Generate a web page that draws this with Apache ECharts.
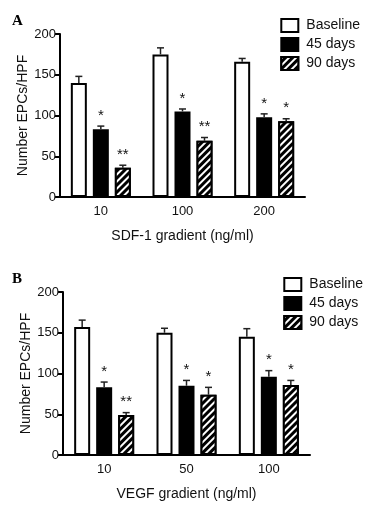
<!DOCTYPE html>
<html>
<head>
<meta charset="utf-8">
<script src="https://cdn.jsdelivr.net/npm/echarts@6/dist/echarts.min.js"></script>
<style>
  html, body { margin: 0; padding: 0; background: #fff; }
  #chart { width: 380px; height: 514px; }
</style>
</head>
<body>
<div id="chart"></div>
<script>
// panel A: SDF-1
const catsA = ['10', '100', '200']
const baseA = [140, 175, 166]
const baseErrA = [8, 8, 4]
const d45A = [83, 105, 98]
const d45ErrA = [4, 3, 4]
const d90A = [36, 69, 93]
const d90ErrA = [3, 4, 3]
const sig45A = ['*', '*', '*']
const sig90A = ['**', '**', '*']

// panel B: VEGF
const catsB = ['10', '50', '100']
const baseB = [157, 150, 145]
const baseErrB = [8.5, 5.5, 10]
const d45B = [83, 85, 96]
const d45ErrB = [6.5, 6.5, 7.5]
const d90B = [49, 74, 86]
const d90ErrB = [3, 9, 5.5]
const sig45B = ['*', '*', '*']
const sig90B = ['**', '*', '*']

const yTicks = [0, 50, 100, 150, 200]
const seriesNames = ['Baseline', '45 days', '90 days']

const font = 'Liberation Sans, Arial, Helvetica, sans-serif'
const barW = 16
const barGapPx = 6

const chart = echarts.init(document.getElementById('chart'))

const hatch = {
  color: '#fff',
  backgroundColor: '#000',
  symbol: 'rect',
  symbolSize: 1,
  dashArrayX: [1, 0],
  dashArrayY: [2, 2.5],
  rotation: -Math.PI / 4
}

const styles = [
  { color: '#fff', borderColor: '#000', borderWidth: 2 },
  { color: '#000', borderColor: '#000', borderWidth: 2 },
  { color: '#000', borderColor: '#000', borderWidth: 2, decal: hatch }
]

function yAxisFor(gridIndex) {
  return {
    type: 'value',
    gridIndex,
    min: 0,
    max: 200,
    interval: 50,
    name: 'Number EPCs/HPF',
    nameLocation: 'middle',
    nameGap: 30,
    nameMoveOverlap: false,
    nameTextStyle: { fontFamily: font, fontSize: 14, color: '#111' },
    axisLine: { show: true, lineStyle: { color: '#000', width: 2 } },
    axisTick: { show: true, length: 5, lineStyle: { color: '#000', width: 2 } },
    axisLabel: { fontFamily: font, fontSize: 13, color: '#111', margin: 4,
      formatter: v => yTicks.includes(v) ? String(v) : '' },
    splitLine: { show: false }
  }
}

function xAxisFor(gridIndex, cats, title) {
  return {
    type: 'category',
    gridIndex,
    data: cats,
    name: title,
    nameLocation: 'middle',
    nameGap: 32,
    nameTextStyle: { fontFamily: font, fontSize: 14, color: '#111' },
    axisLine: { lineStyle: { color: '#000', width: 2 } },
    axisTick: { alignWithLabel: true, length: 5, lineStyle: { color: '#000', width: 2 } },
    axisLabel: { fontFamily: font, fontSize: 13, color: '#111', margin: 8 }
  }
}

// error bar + significance stars, drawn on top of the bars
function errSeries(axisIdx, k, vals, errs, sig) {
  return {
    type: 'custom',
    xAxisIndex: axisIdx,
    yAxisIndex: axisIdx,
    z: 5,
    silent: true,
    data: vals.map((v, i) => [i, v, v + errs[i]]),
    renderItem(params, api) {
      const off = (k - 1) * (barW + barGapPx)
      const p0 = api.coord([api.value(0), api.value(1)])
      const p1 = api.coord([api.value(0), api.value(2)])
      const x = p0[0] + off
      const children = [
        { type: 'line', shape: { x1: x, y1: p0[1], x2: x, y2: p1[1] },
          style: { stroke: '#222', lineWidth: 1.5 } },
        { type: 'line', shape: { x1: x - 3.5, y1: p1[1], x2: x + 3.5, y2: p1[1] },
          style: { stroke: '#222', lineWidth: 1.5 } }
      ]
      const s = sig[params.dataIndex]
      if (s) {
        children.push({ type: 'text', style: { text: s, x: x, y: p1[1] - 3,
          align: 'center', verticalAlign: 'bottom', fontFamily: font, fontSize: 15, fill: '#111' } })
      }
      return { type: 'group', children }
    }
  }
}

function barSeries(axisIdx, k, vals) {
  return {
    name: seriesNames[k],
    type: 'bar',
    xAxisIndex: axisIdx,
    yAxisIndex: axisIdx,
    barWidth: barW,
    barGap: (barGapPx / barW * 100) + '%',
    itemStyle: styles[k],
    data: vals
  }
}

function legendFor(top, right) {
  return {
    orient: 'vertical',
    top,
    right,
    itemWidth: 17,
    itemHeight: 13,
    itemGap: 4,
    icon: 'rect',
    textStyle: { fontFamily: font, fontSize: 14, color: '#111', padding: [0, 0, 0, 3] },
    data: seriesNames
  }
}

chart.setOption({
  animation: false,
  title: [
    { text: 'A', left: 7, top: 9, textStyle: { fontFamily: 'Liberation Serif, serif', fontWeight: 'bold', fontSize: 15, color: '#000' } },
    { text: 'B', left: 7, top: 267, textStyle: { fontFamily: 'Liberation Serif, serif', fontWeight: 'bold', fontSize: 15, color: '#000' } }
  ],
  legend: [legendFor(13, 15), legendFor(272, 12)],
  grid: [
    { left: 60, top: 34, width: 245, height: 163 },
    { left: 63, top: 292, width: 247, height: 163 }
  ],
  xAxis: [
    xAxisFor(0, catsA, 'SDF-1 gradient (ng/ml)'),
    xAxisFor(1, catsB, 'VEGF gradient (ng/ml)')
  ],
  yAxis: [yAxisFor(0), yAxisFor(1)],
  series: [
    barSeries(0, 0, baseA),
    barSeries(0, 1, d45A),
    barSeries(0, 2, d90A),
    barSeries(1, 0, baseB),
    barSeries(1, 1, d45B),
    barSeries(1, 2, d90B),
    errSeries(0, 0, baseA, baseErrA, []),
    errSeries(0, 1, d45A, d45ErrA, sig45A),
    errSeries(0, 2, d90A, d90ErrA, sig90A),
    errSeries(1, 0, baseB, baseErrB, []),
    errSeries(1, 1, d45B, d45ErrB, sig45B),
    errSeries(1, 2, d90B, d90ErrB, sig90B)
  ]
})
</script>
</body>
</html>
